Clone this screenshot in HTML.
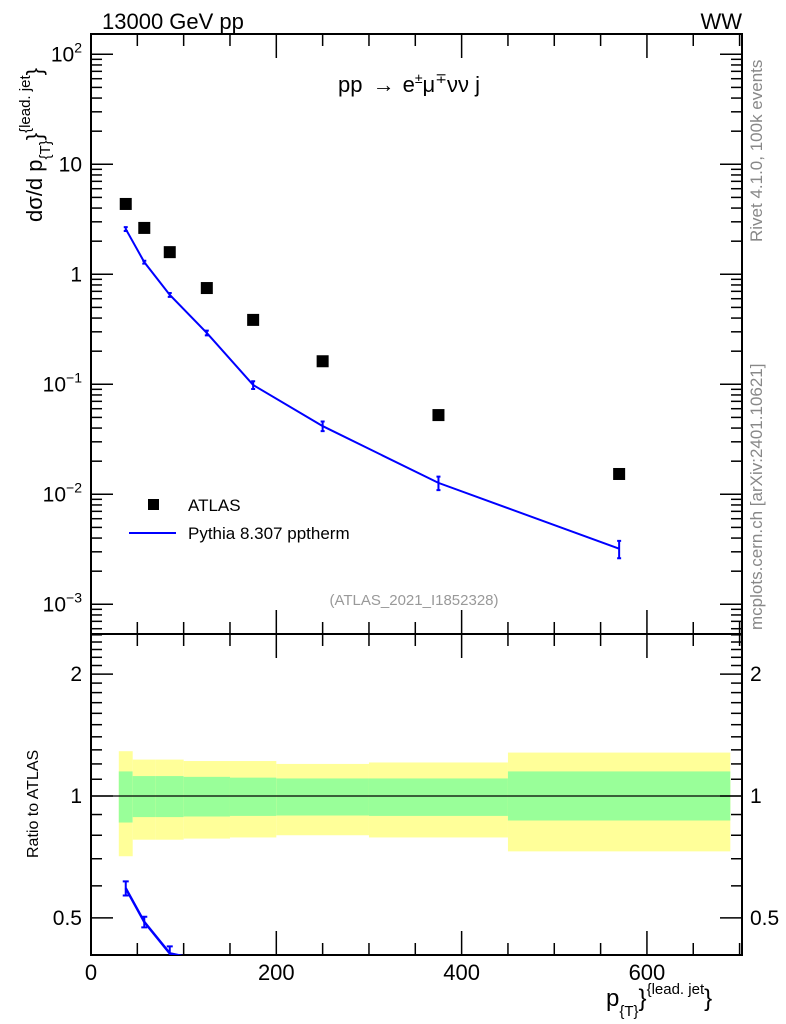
<!DOCTYPE html>
<html><head><meta charset="utf-8"><style>
html,body{margin:0;padding:0;background:#fff;overflow:hidden;width:786px;height:1024px}
svg{display:block;font-family:"Liberation Sans",sans-serif}
</style></head><body>
<svg id="chart" width="786" height="1024" viewBox="0 0 786 1024" xmlns="http://www.w3.org/2000/svg">
<text x="102" y="29" font-size="22">13000 GeV pp</text>
<text x="742" y="29" font-size="22" text-anchor="end">WW</text>
<text x="338" y="92" font-size="22">pp <tspan dx="4">→</tspan><tspan dx="8">e</tspan><tspan font-size="14" dy="-9">±</tspan><tspan dy="9">μ</tspan><tspan font-size="14" dy="-9">∓</tspan><tspan dy="9">νν j</tspan></text>
<text x="414" y="605" font-size="15" fill="#999" text-anchor="middle">(ATLAS_2021_I1852328)</text>
<text transform="translate(762,242) rotate(-90)" font-size="17" fill="#888">Rivet 4.1.0,  100k events</text>
<text transform="translate(762,630) rotate(-90)" font-size="17" fill="#888">mcplots.cern.ch [arXiv:2401.10621]</text>
<text transform="translate(42,222) rotate(-90)" font-size="22">dσ/d p<tspan font-size="15" dy="8">{T}</tspan><tspan font-size="22" dy="-8">}</tspan><tspan font-size="15" dy="-12">{lead. jet</tspan><tspan font-size="22" dy="12">}</tspan></text>
<text transform="translate(38,858) rotate(-90)" font-size="16">Ratio to ATLAS</text>
<text x="606" y="1006" font-size="24">p<tspan font-size="15" dy="10">{T}</tspan><tspan font-size="24" dy="-10">}</tspan><tspan font-size="15" dy="-12">{lead. jet</tspan><tspan font-size="24" dy="12">}</tspan></text>
<g>
<rect x="148" y="499" width="11" height="11" fill="#000"/>
<text x="188" y="511" font-size="17">ATLAS</text>
<line x1="129" y1="533" x2="176" y2="533" stroke="#00f" stroke-width="2"/>
<text x="188" y="539" font-size="17">Pythia 8.307 pptherm</text>
</g>
<g id="plot"></g>
</svg>
<script>
const xCenters=[37.5,57.5,85,125,175,250,375,570];
const binEdges=[30,45,70,100,150,200,300,450,690];
const atlasVals=[4.36,2.64,1.59,0.75,0.385,0.162,0.0525,0.0153];
const pythiaVals=[2.58,1.29,0.65,0.293,0.0986,0.0417,0.0127,0.0032];
const pythiaErr=[0.04,0.03,0.04,0.05,0.08,0.1,0.14,0.18];
const yellowHi=[1.29,1.23,1.23,1.22,1.22,1.20,1.21,1.28];
const yellowLo=[0.71,0.78,0.78,0.785,0.79,0.80,0.79,0.73];
const greenHi=[1.15,1.12,1.12,1.115,1.11,1.105,1.105,1.15];
const greenLo=[0.86,0.887,0.887,0.89,0.893,0.895,0.893,0.87];
const xTicks=[0,200,400,600];
const mainTicks=[-3,-2,-1,0,1,2];
const mainTickLabels=["10^-3","10^-2","10^-1","1","10","10^2"];
const ratioTicks=[0.5,1,2];

const L=91,R=742,T=34,M=634,B=955;
const X=v=>L+v*(R-L)/702.6;
const Y=v=>274.3-110*Math.log10(v);
const YR=v=>796-405*Math.log10(v);
const NS="http://www.w3.org/2000/svg";
const g=document.getElementById('plot');
function mk(tag,attrs,parent){const e=document.createElementNS(NS,tag);for(const k in attrs)e.setAttribute(k,attrs[k]);(parent||g).appendChild(e);return e;}

for(let i=0;i<yellowHi.length;i++){
 const x0=X(binEdges[i]),x1=X(binEdges[i+1]);
 const y=mk('rect',{x:x0,y:YR(yellowHi[i]),width:x1-x0,height:YR(yellowLo[i])-YR(yellowHi[i]),fill:'#ffff99'});
 
 
 const gr=mk('rect',{x:x0,y:YR(greenHi[i]),width:x1-x0,height:YR(greenLo[i])-YR(greenHi[i]),fill:'#99ff99'});
 
 
}
const one=mk('line',{x1:L,x2:R,y1:YR(1),y2:YR(1),stroke:'#000','stroke-width':1.2});



const f1=mk('rect',{x:L,y:T,width:R-L,height:M-T,fill:'none',stroke:'#000','stroke-width':2});


const f2=mk('rect',{x:L,y:M,width:R-L,height:B-M,fill:'none',stroke:'#000','stroke-width':2});



for(let v=0;v<=700;v+=50){
 const big=v%200===0,len=big?24:12;
 for(const [yy,dir] of [[T,1],[M,-1],[M,1],[B,-1]]){
  mk('line',{x1:X(v),x2:X(v),y1:yy,y2:yy+dir*len,stroke:'#000','stroke-width':1.5});
 }
}
xTicks.forEach(v=>{const t=mk('text',{x:X(v),y:980,'font-size':22,'text-anchor':'middle'});t.textContent=v;
 
 });

for(let d=-4;d<=2;d++){for(let m=1;m<=9;m++){const v=m*Math.pow(10,d);const y=Y(v);if(y<T||y>M)continue;
 const len=m===1?22:11;
 mk('line',{x1:L,x2:L+len,y1:y,y2:y,stroke:'#000','stroke-width':1.5});
 mk('line',{x1:R,x2:R-len,y1:y,y2:y,stroke:'#000','stroke-width':1.5});}}
mainTicks.forEach((p,i)=>{const lab=mainTickLabels[i];const t=mk('text',{x:82,y:Y(Math.pow(10,p))+7,'font-size':21,'text-anchor':'end'});
 if(lab.includes('^')){const [b,e]=lab.split('^');t.innerHTML=b+'<tspan font-size="14" dy="-9">'+e.replace('-','−')+'</tspan>';}else t.textContent=lab;
 
 });

for(let v=0.4;v<=2.51;v=Math.round((v+0.1)*10)/10){const y=YR(v);if(y<M||y>B)continue;
 const big=[0.5,1,2].includes(v),len=big?22:11;
 mk('line',{x1:L,x2:L+len,y1:y,y2:y,stroke:'#000','stroke-width':1.5});
 mk('line',{x1:R,x2:R-len,y1:y,y2:y,stroke:'#000','stroke-width':1.5});}
ratioTicks.forEach(v=>{for(const [x,a] of [[82,'end'],[750,'start']]){const t=mk('text',{x:x,y:YR(v)+7,'font-size':21,'text-anchor':a});t.textContent=v;
 
 }});

atlasVals.forEach((v,i)=>{const r=mk('rect',{x:X(xCenters[i])-6,y:Y(v)-6,width:12,height:12,fill:'#000'});
 
 });

const pl=mk('polyline',{points:pythiaVals.map((v,i)=>X(xCenters[i])+','+Y(v)).join(' '),fill:'none',stroke:'#00f','stroke-width':2});


pythiaVals.forEach((v,i)=>{const x=X(xCenters[i]),y1=Y(v*(1+pythiaErr[i])),y2=Y(v*(1-pythiaErr[i]));
 const e=mk('path',{d:`M${x},${y1}V${y2}M${x-2},${y1}H${x+2}M${x-2},${y2}H${x+2}`,stroke:'#00f','stroke-width':2,fill:'none'});
 
 });

const defs=mk('defs',{});
const cp=mk('clipPath',{id:'rc'},defs);
mk('rect',{x:L,y:M,width:R-L,height:B-M},cp);
const ratios=pythiaVals.map((v,i)=>v/atlasVals[i]);
const rg=mk('g',{'clip-path':'url(#rc)'});


mk('polyline',{points:ratios.map((r,i)=>X(xCenters[i])+','+YR(r)).join(' '),fill:'none',stroke:'#00f','stroke-width':2.5},rg);
ratios.forEach((r,i)=>{if(YR(r)>B)return;const x=X(xCenters[i]),y1=YR(r*(1+pythiaErr[i])),y2=YR(r*(1-pythiaErr[i]));
 mk('path',{d:`M${x},${y1}V${y2}M${x-3},${y1}H${x+3}M${x-3},${y2}H${x+3}`,stroke:'#00f','stroke-width':2,fill:'none'},rg);});
</script>
</body></html>
